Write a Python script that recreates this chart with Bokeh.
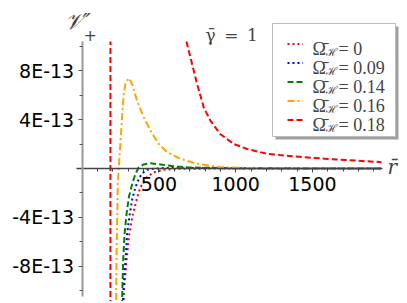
import math
from bokeh.plotting import figure
from bokeh.models import (FixedTicker, CustomJSTickFormatter, Label, Legend,
                          LegendItem, BoxAnnotation)
from bokeh.embed import file_html
from bokeh.resources import INLINE

nan = float("nan")
SCALE = 1e-13

# --- data (values in units of 1E-13) ---
r_om0 = [268, 271, 289, 304, 326, 347, 369, 391, 423, 466, 532, 620, 900, 1950]
v_om0 = [-12, -10.2, -7.5, -5.6, -4.0, -2.9, -1.9, -1.25, -0.7, -0.3, -0.1, -0.03, 0, 0]

r_om009 = [264, 267, 282, 293, 310, 326, 347, 369, 391, 423, 466, 550, 700, 900, 1200, 1950]
v_om009 = [-12, -10.2, -7.5, -5.33, -3.7, -2.5, -1.53, -0.84, -0.38, -0.11, -0.02, 0.05, 0.05, 0.03, 0.01, 0]

r_om014 = [258, 261, 267, 276, 289, 304, 326, 347, 369, 401, 445, 510, 554, 619, 684, 800, 1000, 1400, 1950]
v_om014 = [-12, -10.2, -7.5, -5.35, -3.72, -2.34, -1.25, -0.43, 0.1, 0.33, 0.43, 0.33, 0.25, 0.16, 0.1, 0.06, 0.03, 0.01, 0]

r_om016 = [220, 221, 224, 228, 232, 238, 250, 261, 271, 282, 304, 326, 358, 401, 445, 499, 554, 640, 749, 901, 1100, 1400, 1950]
v_om016 = [-12, -10.4, -7.0, -3.97, -1.25, 0, 2.3, 4.5, 6.1, 7.0, 7.4, 6.9, 5.5, 4.2, 3.1, 2.0, 1.33, 0.79, 0.38, 0.11, 0.04, 0.01, 0]

r_om018 = [184, 184, nan, 679, 717, 749, 792, 836, 901, 988, 1075, 1205, 1370, 1580, 1950]
v_om018 = [-12, 10.4, nan, 10.4, 8.5, 6.9, 5.0, 3.9, 2.8, 2.0, 1.6, 1.2, 1.0, 0.8, 0.52]

series_labels = ["0", "0.09", "0.14", "0.16", "0.18"]
x_major = [500, 1000, 1500]
x_minor = [100, 200, 300, 400, 600, 700, 800, 900, 1100, 1200, 1300, 1400, 1600, 1700, 1800, 1900]
y_major = [-8, -4, 4, 8]
y_minor = [-10, -6, -2, 2, 6, 10]

W, H = 405, 301
X0, XS = 81.7, 0.1535          # page px of r=0, px per unit
Y0, YS = 168.0, 8.19e-15       # page px of V=0, value per px


def px2x(P):
    return (P - X0) / XS


def py2y(P):
    return (Y0 - P) * YS


p = figure(width=W, height=H, min_border=0,
           x_range=(px2x(0), px2x(W)), y_range=(py2y(H), py2y(0)),
           output_backend="svg", toolbar_location=None)
p.outline_line_color = None
p.xgrid.visible = False
p.ygrid.visible = False
p.background_fill_color = "white"
p.border_fill_color = "white"


def sc(v):
    return [x * SCALE if not math.isnan(x) else nan for x in v]


styles = [
    (r_om0, v_om0, "#ff0000", "2 3"),
    (r_om009, v_om009, "#0000ff", "2 3"),
    (r_om014, v_om014, "#008000", "6 3"),
    (r_om016, v_om016, "#ffa500", "7 3 2 3"),
    (r_om018, v_om018, "#ff0000", "6 3"),
]
renderers = []
for r, v, c, d in styles:
    rr = p.line(r, sc(v), line_color=c, line_width=2, line_dash=d)
    renderers.append(rr)

# axes through the origin
for ax in (p.xaxis[0], p.yaxis[0]):
    ax.fixed_location = 0
    ax.major_tick_in = 0
    ax.minor_tick_in = 0
    ax.major_tick_out = 4
    ax.minor_tick_out = 3
    ax.major_label_text_font = "DejaVu Sans"
    ax.major_label_text_font_size = "19px"
    ax.major_label_text_color = "black"
    ax.major_label_standoff = 4

p.xaxis.ticker = FixedTicker(ticks=x_major, minor_ticks=x_minor)
p.xaxis.bounds = (px2x(76), px2x(382))
p.xaxis.axis_line_color = "#444444"
p.xaxis.axis_line_width = 1.5
p.xaxis.major_tick_line_color = "#444444"
p.xaxis.minor_tick_line_color = "#444444"

p.yaxis.ticker = FixedTicker(ticks=[t * SCALE for t in y_major],
                             minor_ticks=[t * SCALE for t in y_minor])
p.yaxis.bounds = (py2y(296), py2y(41))
p.yaxis.formatter = CustomJSTickFormatter(code="return Math.round(tick*1e13) + 'E-13';")
p.yaxis.axis_line_color = "#999999"
p.yaxis.axis_line_width = 2
p.yaxis.major_tick_line_color = "#555555"
p.yaxis.minor_tick_line_color = "#555555"

# legend box with shadow (canvas pixels)
p.add_layout(BoxAnnotation(left=275, right=398, top=26, bottom=139,
                           left_units="canvas", right_units="canvas",
                           top_units="canvas", bottom_units="canvas",
                           fill_color="#a0a0a0", fill_alpha=1, line_alpha=0))
p.add_layout(BoxAnnotation(left=272, right=395, top=23, bottom=136,
                           left_units="canvas", right_units="canvas",
                           top_units="canvas", bottom_units="canvas",
                           fill_color="white", fill_alpha=1,
                           line_color="#bbbbbb", line_width=1, line_alpha=1))

NB = "\u00a0"
ROW = 19
LEG_TOP = 33.5
items = [LegendItem(label=NB, renderers=[rr]) for rr in renderers]
leg = Legend(items=items, location=(287, H - (LEG_TOP + 5 * ROW)),
             glyph_width=16, glyph_height=ROW, label_height=ROW, spacing=0,
             padding=0, margin=0, label_standoff=10,
             label_text_font="Liberation Serif", label_text_font_size="16px",
             border_line_alpha=0, background_fill_alpha=0)
p.add_layout(leg, "center")

# legend texts: Ω̄_ℋ = value
for i, s in enumerate(series_labels):
    yc = LEG_TOP + ROW / 2 + ROW * i
    p.add_layout(Label(x=px2x(312), y=py2y(yc + 5.5), text="Ω̄",
                       text_font="Liberation Serif", text_font_size="18px",
                       text_baseline="alphabetic"))
    p.add_layout(Label(x=px2x(325), y=py2y(yc + 8.5), text="ℋ",
                       text_font="DejaVu Serif", text_font_size="11px",
                       text_baseline="alphabetic"))
    p.add_layout(Label(x=px2x(338), y=py2y(yc + 5.5), text="=" + NB + s,
                       text_font="Liberation Serif", text_font_size="18px",
                       text_baseline="alphabetic"))

p.add_layout(Label(x=px2x(64), y=py2y(21), text="𝒱″", text_font="DejaVu Serif",
                   text_font_size="22px", text_font_style="italic", text_baseline="alphabetic"))
p.add_layout(Label(x=px2x(83), y=py2y(34), text="+", text_font="DejaVu Sans",
                   text_font_size="16px", text_color="#444444", text_baseline="alphabetic"))
p.add_layout(Label(x=px2x(205), y=py2y(34), text="γ̄\u2002=\u20021", text_font="DejaVu Serif",
                   text_font_size="17px", text_baseline="alphabetic"))
p.add_layout(Label(x=px2x(387), y=py2y(166), text="r̄", text_font="DejaVu Serif",
                   text_font_size="20px", text_font_style="italic", text_baseline="alphabetic"))

open("out.html", "w").write(file_html(p, INLINE))
